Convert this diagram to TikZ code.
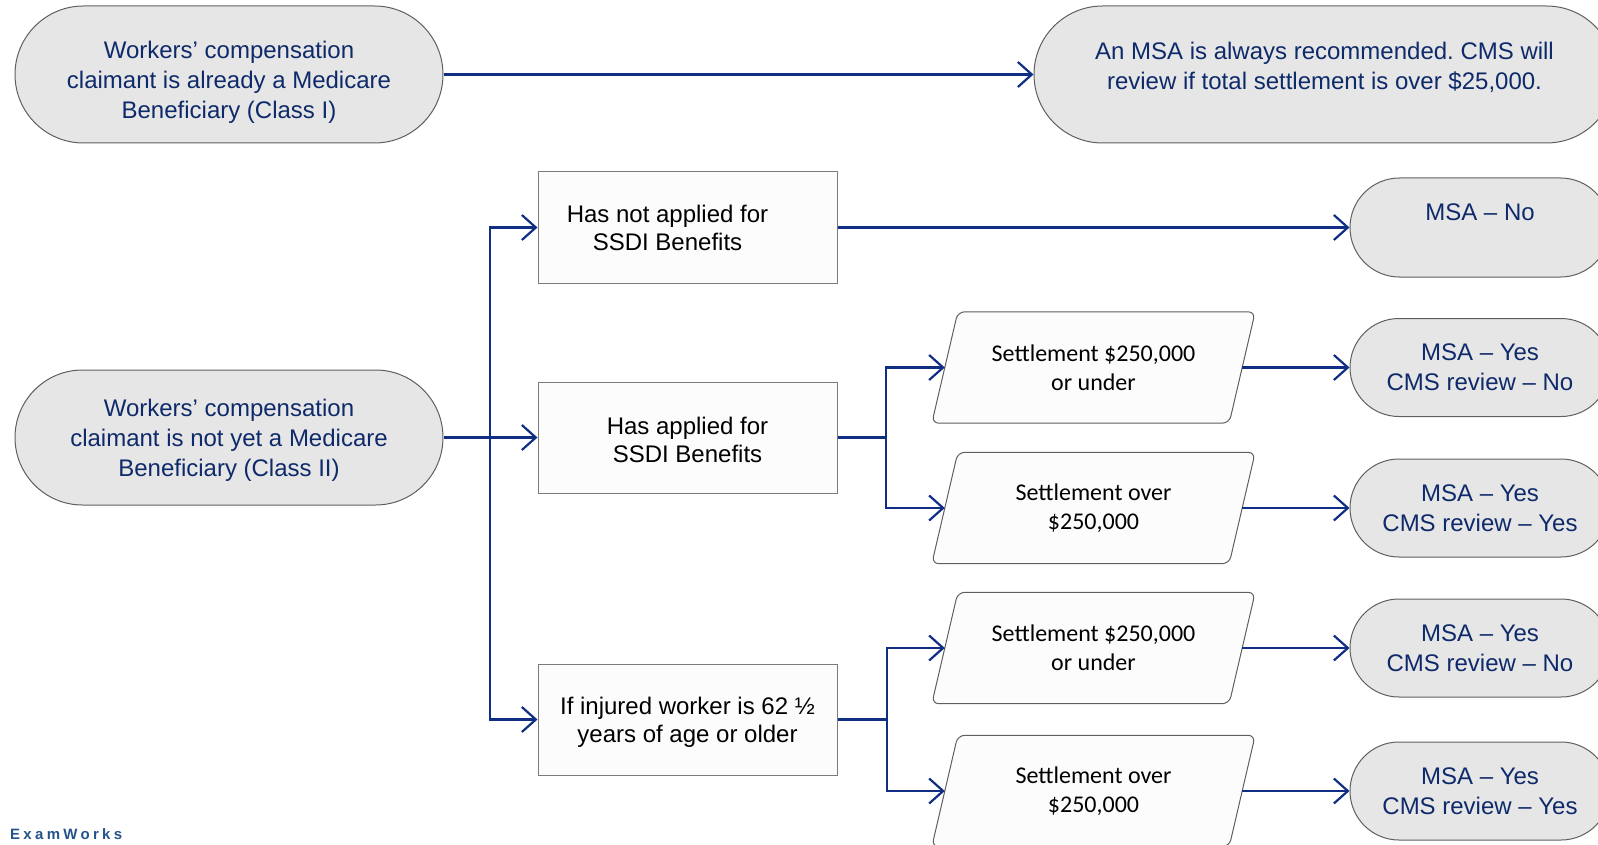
\documentclass[tikz,border=0pt]{standalone}
\usepackage{fontspec}
\setmainfont{Liberation Sans}
\newfontfamily\calib{Carlito}
\newfontfamily\logofont[LetterSpace=22]{Liberation Sans Bold}
\usetikzlibrary{shapes.misc,arrows.meta,backgrounds,calc}
\definecolor{linec}{HTML}{102E84}
\definecolor{navytext}{HTML}{0E2A6A}
\definecolor{stadfill}{HTML}{E6E6E6}
\definecolor{stadline}{HTML}{5F5F5F}
\definecolor{boxline}{HTML}{7A7A7A}
\definecolor{boxfill}{HTML}{FCFCFC}
\definecolor{logoc}{HTML}{25548A}
\frenchspacing
\begin{document}
\begin{tikzpicture}[x=1pt,y=-1pt,
  stad/.style={rounded rectangle, draw=stadline, fill=stadfill, line width=1pt, text=navytext,
    font=\fontsize{24}{30}\selectfont, align=center, inner sep=0pt},
  stadtext/.style={text=navytext, font=\fontsize{24}{30}\selectfont, align=center, inner sep=0pt},
  plainbox/.style={rectangle, draw=boxline, fill=boxfill, line width=1pt, minimum width=299pt,
    minimum height=111pt, font=\fontsize{24}{28}\selectfont, align=center, inner sep=0pt},
  boxtext/.style={font=\fontsize{24}{28}\selectfont, align=center, inner sep=0pt},
  paratext/.style={rectangle, minimum width=297pt, minimum height=111pt, inner sep=0pt,
    font=\calib\fontsize{24}{29}\selectfont, align=center},
  paraline/.style={draw=stadline, fill=boxfill, line width=1pt, rounded corners=7pt},
  arr/.style={draw=linec, line width=2.2pt, -{Straight Barb[length=14pt,width=25pt]}},
  link/.style={draw=linec, line width=2.2pt},
]
\path[use as bounding box] (0,0) rectangle (1598,845);
\clip (0,0) rectangle (1598,845);

% left column
\node[stad, minimum width=428pt, minimum height=137pt,
  label={[stadtext,yshift=-8pt]center:{Workers’ compensation\\claimant is already a Medicare\\Beneficiary (Class I)}}]
  (s1) at (229,74.5) {};
\node[stad, minimum width=581pt, minimum height=137pt,
  label={[stadtext,yshift=7pt]center:{An MSA is always recommended. CMS will\\review if total settlement is over \$25,000.}}]
  (s2) at (1324.5,74.5) {};
\node[stad, minimum width=428pt, minimum height=135pt,
  label={[stadtext,yshift=-3pt]center:{Workers’ compensation\\claimant is not yet a Medicare\\Beneficiary (Class II)}}]
  (s3) at (229,437.5) {};

% boxes
\node[plainbox] (b1) at (687.5,227.5) {Has not applied for\hspace*{40pt}\\SSDI Benefits\hspace*{40pt}};
\node[plainbox, label={[boxtext,yshift=-2.5pt]center:{Has applied for\\SSDI Benefits}}] (b2) at (687.5,437.5) {};
\node[plainbox, label={[boxtext,yshift=-3pt]center:{If injured worker is 62 ½\\years of age or older}}] (b3) at (687.5,719.5) {};

% parallelograms
\node[paratext] (p1) at (1093.5,367.5) {Settlement \$250,000\\or under};
\node[paratext] (p2) at (1093.5,508) {Settlement over\\\$250,000};
\node[paratext] (p3) at (1093.5,648) {Settlement \$250,000\\or under};
\node[paratext] (p4) at (1093.5,791) {Settlement over\\\$250,000};
\begin{scope}[on background layer]
\foreach \p in {p1,p2,p3,p4}{
  \path[paraline] ([xshift=13pt]\p.north west) -- ([xshift=13pt]\p.north east)
    -- ([xshift=-13pt]\p.south east) -- ([xshift=-13pt]\p.south west) -- cycle;
}
\end{scope}

% results
\node[stad, minimum width=260pt, minimum height=99pt] (r1) at (1480,227.5) {MSA – No\\\mbox{}};
\node[stad, minimum width=260pt, minimum height=98pt] (r2) at (1480,367.5) {MSA – Yes\\CMS review – No};
\node[stad, minimum width=260pt, minimum height=98pt] (r3) at (1480,508) {MSA – Yes\\CMS review – Yes};
\node[stad, minimum width=260pt, minimum height=98pt] (r4) at (1480,648) {MSA – Yes\\CMS review – No};
\node[stad, minimum width=260pt, minimum height=98pt] (r5) at (1480,791) {MSA – Yes\\CMS review – Yes};

% logo
\node[font=\logofont\fontsize{15}{18}\selectfont, text=logoc, anchor=base west, inner sep=0pt]
  (logo) at (10,839) {ExamWorks};

% connectors
\draw[arr] (s1.east) -- (s2.west);
\draw[arr] (s3.east) -- (b2.west);
\coordinate (ja) at (490,437.5);
\draw[arr] (ja) |- (b1.west);
\draw[arr] (ja) |- (b3.west);
\draw[arr] (b1.east) -- (r1.west);
\coordinate (jb) at (886,437.5);
\draw[link] (b2.east) -- (jb);
\draw[arr] (jb) |- (p1.west);
\draw[arr] (jb) |- (p2.west);
\coordinate (jc) at (887,719.5);
\draw[link] (b3.east) -- (jc);
\draw[arr] (jc) |- (p3.west);
\draw[arr] (jc) |- (p4.west);
\draw[arr] (p1.east) -- (r2.west);
\draw[arr] (p2.east) -- (r3.west);
\draw[arr] (p3.east) -- (r4.west);
\draw[arr] (p4.east) -- (r5.west);
\end{tikzpicture}
\end{document}
